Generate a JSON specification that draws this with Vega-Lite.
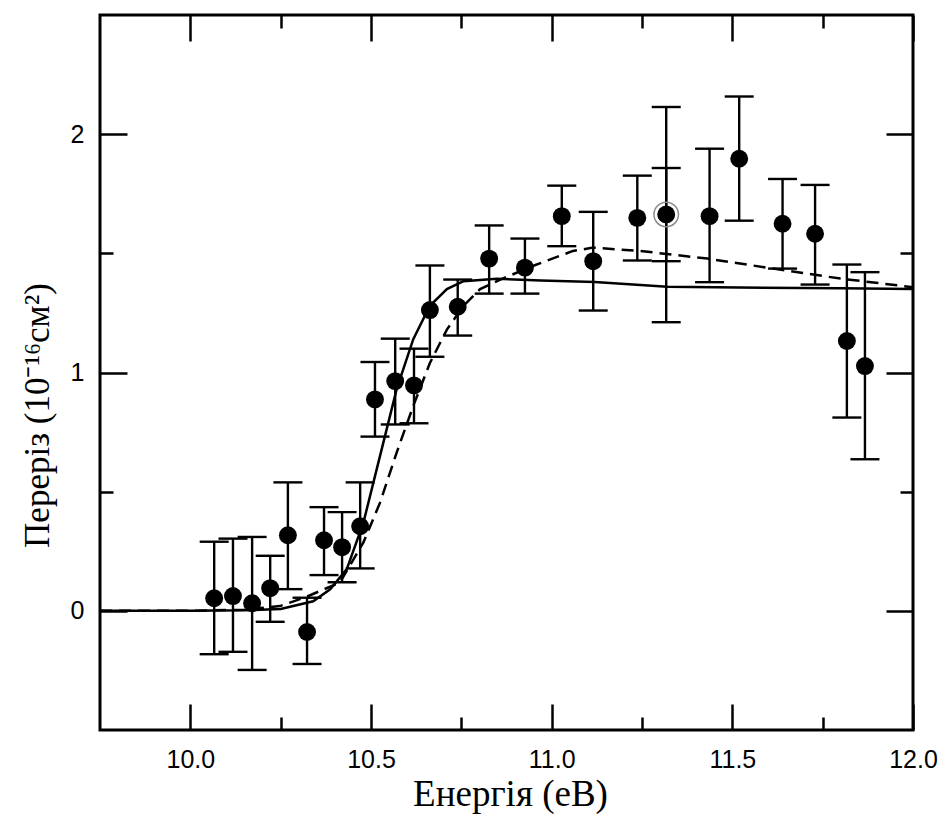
{
  "$schema": "https://vega.github.io/schema/vega-lite/v6.json",
  "width": 813,
  "height": 715,
  "autosize": {"type": "none"},
  "padding": {"left": 100, "top": 15, "right": 29, "bottom": 93},
  "background": "white",
  "config": {
    "view": {"stroke": "black", "strokeWidth": 3},
    "axis": {"domain": false, "grid": false, "tickColor": "black", "tickWidth": 2.5, "labelColor": "black", "titleColor": "black"}
  },
  "datasets": {
    "pts": [
      {"E": 10.066, "v": 0.053}, {"E": 10.118, "v": 0.062}, {"E": 10.171, "v": 0.032}, {"E": 10.221, "v": 0.095},
      {"E": 10.270, "v": 0.317}, {"E": 10.323, "v": -0.089}, {"E": 10.370, "v": 0.296}, {"E": 10.420, "v": 0.267},
      {"E": 10.470, "v": 0.355}, {"E": 10.511, "v": 0.887}, {"E": 10.567, "v": 0.964}, {"E": 10.619, "v": 0.946},
      {"E": 10.663, "v": 1.262}, {"E": 10.740, "v": 1.276}, {"E": 10.827, "v": 1.478}, {"E": 10.926, "v": 1.440},
      {"E": 11.028, "v": 1.656}, {"E": 11.115, "v": 1.467}, {"E": 11.237, "v": 1.649}, {"E": 11.317, "v": 1.663},
      {"E": 11.437, "v": 1.656}, {"E": 11.519, "v": 1.897}, {"E": 11.639, "v": 1.624}, {"E": 11.729, "v": 1.582},
      {"E": 11.817, "v": 1.132}, {"E": 11.867, "v": 1.027}
    ],
    "errs": [
      {"E": 10.066, "lo": -0.182, "hi": 0.290}, {"E": 10.118, "lo": -0.172, "hi": 0.303},
      {"E": 10.171, "lo": -0.248, "hi": 0.310}, {"E": 10.221, "lo": -0.046, "hi": 0.231},
      {"E": 10.270, "lo": 0.091, "hi": 0.539}, {"E": 10.323, "lo": -0.223, "hi": 0.055},
      {"E": 10.370, "lo": 0.150, "hi": 0.435}, {"E": 10.420, "lo": 0.120, "hi": 0.414},
      {"E": 10.470, "lo": 0.178, "hi": 0.539}, {"E": 10.511, "lo": 0.731, "hi": 1.044},
      {"E": 10.567, "lo": 0.782, "hi": 1.142}, {"E": 10.619, "lo": 0.787, "hi": 1.100},
      {"E": 10.663, "lo": 1.066, "hi": 1.449}, {"E": 10.740, "lo": 1.155, "hi": 1.390},
      {"E": 10.827, "lo": 1.331, "hi": 1.617}, {"E": 10.926, "lo": 1.331, "hi": 1.562},
      {"E": 11.028, "lo": 1.530, "hi": 1.784}, {"E": 11.115, "lo": 1.260, "hi": 1.674},
      {"E": 11.237, "lo": 1.470, "hi": 1.826}, {"E": 11.317, "lo": 1.211, "hi": 2.114},
      {"E": 11.317, "lo": 1.467, "hi": 1.858}, {"E": 11.437, "lo": 1.379, "hi": 1.939},
      {"E": 11.519, "lo": 1.637, "hi": 2.158}, {"E": 11.639, "lo": 1.436, "hi": 1.812},
      {"E": 11.729, "lo": 1.369, "hi": 1.787}, {"E": 11.817, "lo": 0.811, "hi": 1.453},
      {"E": 11.867, "lo": 0.636, "hi": 1.421}
    ],
    "ring": [{"E": 11.317, "v": 1.663}],
    "solid": [
      {"E": 9.75, "v": 0}, {"E": 10.0, "v": 0}, {"E": 10.15, "v": 0.002}, {"E": 10.25, "v": 0.008},
      {"E": 10.34, "v": 0.04}, {"E": 10.387, "v": 0.09}, {"E": 10.433, "v": 0.175}, {"E": 10.479, "v": 0.37},
      {"E": 10.525, "v": 0.65}, {"E": 10.571, "v": 0.93}, {"E": 10.617, "v": 1.14}, {"E": 10.663, "v": 1.28},
      {"E": 10.71, "v": 1.35}, {"E": 10.756, "v": 1.383}, {"E": 10.848, "v": 1.393}, {"E": 10.97, "v": 1.386},
      {"E": 11.119, "v": 1.38}, {"E": 11.32, "v": 1.36}, {"E": 11.52, "v": 1.357}, {"E": 11.8, "v": 1.353},
      {"E": 12.0, "v": 1.35}
    ],
    "dashed": [
      {"E": 9.75, "v": 0}, {"E": 10.0, "v": 0}, {"E": 10.15, "v": 0.005}, {"E": 10.248, "v": 0.02},
      {"E": 10.32, "v": 0.058}, {"E": 10.414, "v": 0.119}, {"E": 10.479, "v": 0.287}, {"E": 10.525, "v": 0.454},
      {"E": 10.571, "v": 0.664}, {"E": 10.617, "v": 0.86}, {"E": 10.663, "v": 1.04}, {"E": 10.71, "v": 1.18},
      {"E": 10.756, "v": 1.28}, {"E": 10.802, "v": 1.35}, {"E": 10.858, "v": 1.39}, {"E": 10.953, "v": 1.45},
      {"E": 11.059, "v": 1.51}, {"E": 11.115, "v": 1.524}, {"E": 11.245, "v": 1.51}, {"E": 11.431, "v": 1.478},
      {"E": 11.613, "v": 1.436}, {"E": 11.799, "v": 1.394}, {"E": 12.0, "v": 1.358}
    ]
  },
  "resolve": {"axis": {"x": "independent", "y": "independent"}},
  "layer": [
    {
      "data": {"name": "solid"},
      "mark": {"type": "line", "color": "black", "strokeWidth": 2.5},
      "encoding": {
        "x": {"field": "E", "type": "quantitative", "scale": {"domain": [9.75, 12], "nice": false, "zero": false},
          "axis": {"orient": "bottom", "values": [10, 10.25, 10.5, 10.75, 11, 11.25, 11.5, 11.75, 12],
            "labelExpr": "datum.value % 0.5 === 0 ? format(datum.value, '.1f') : ''",
            "tickSize": {"condition": {"test": "datum.value % 0.5 === 0", "value": -26}, "value": -13},
            "labelPadding": 43, "labelFont": "Liberation Sans", "labelFontSize": 25, "labelBaseline": "top",
            "labelFlush": false, "labelOverlap": false,
            "title": "Енергія (еВ)", "titleFont": "Liberation Serif", "titleFontSize": 37, "titleFontWeight": "normal",
            "titleBaseline": "alphabetic", "titleY": 75, "titleX": 410}},
        "y": {"field": "v", "type": "quantitative", "scale": {"domain": [-0.5, 2.5], "nice": false, "zero": false},
          "axis": {"orient": "left", "values": [0, 0.5, 1, 1.5, 2],
            "labelExpr": "datum.value % 1 === 0 ? format(datum.value, 'd') : ''",
            "tickSize": {"condition": {"test": "datum.value % 1 === 0", "value": -27}, "value": -13},
            "labelPadding": 43, "labelFont": "Liberation Sans", "labelFontSize": 25,
            "labelFlush": false, "labelOverlap": false,
            "title": "Переріз (10⁻¹⁶см²)", "titleFont": "Liberation Serif", "titleFontSize": 35, "titleFontWeight": "normal",
            "titleBaseline": "alphabetic", "titleX": -52, "titleY": 400}}
      }
    },
    {
      "data": {"name": "dashed"},
      "mark": {"type": "line", "color": "black", "strokeWidth": 2.5, "strokeDash": [12, 7]},
      "encoding": {
        "x": {"field": "E", "type": "quantitative",
          "axis": {"orient": "top", "values": [10, 10.25, 10.5, 10.75, 11, 11.25, 11.5, 11.75, 12], "labels": false, "title": null,
            "tickSize": {"condition": {"test": "datum.value % 0.5 === 0", "value": -26}, "value": -13}}},
        "y": {"field": "v", "type": "quantitative",
          "axis": {"orient": "right", "values": [0, 0.5, 1, 1.5, 2], "labels": false, "title": null,
            "tickSize": {"condition": {"test": "datum.value % 1 === 0", "value": -27}, "value": -13}}}
      }
    },
    {
      "data": {"name": "errs"},
      "mark": {"type": "rule", "color": "black", "strokeWidth": 2.4},
      "encoding": {
        "x": {"field": "E", "type": "quantitative", "axis": null},
        "y": {"field": "lo", "type": "quantitative", "axis": null},
        "y2": {"field": "hi"}
      }
    },
    {
      "data": {"name": "errs"},
      "mark": {"type": "tick", "orient": "horizontal", "color": "black", "size": 29, "thickness": 2.4, "opacity": 1},
      "encoding": {
        "x": {"field": "E", "type": "quantitative", "axis": null},
        "y": {"field": "hi", "type": "quantitative", "axis": null}
      }
    },
    {
      "data": {"name": "errs"},
      "mark": {"type": "tick", "orient": "horizontal", "color": "black", "size": 29, "thickness": 2.4, "opacity": 1},
      "encoding": {
        "x": {"field": "E", "type": "quantitative", "axis": null},
        "y": {"field": "lo", "type": "quantitative", "axis": null}
      }
    },
    {
      "data": {"name": "ring"},
      "mark": {"type": "point", "shape": "circle", "filled": false, "color": "#8a8a8a", "strokeWidth": 1.5, "size": 600, "opacity": 1},
      "encoding": {
        "x": {"field": "E", "type": "quantitative", "axis": null},
        "y": {"field": "v", "type": "quantitative", "axis": null}
      }
    },
    {
      "data": {"name": "pts"},
      "mark": {"type": "point", "shape": "circle", "filled": true, "color": "black", "size": 320, "opacity": 1},
      "encoding": {
        "x": {"field": "E", "type": "quantitative", "axis": null},
        "y": {"field": "v", "type": "quantitative", "axis": null}
      }
    }
  ]
}
